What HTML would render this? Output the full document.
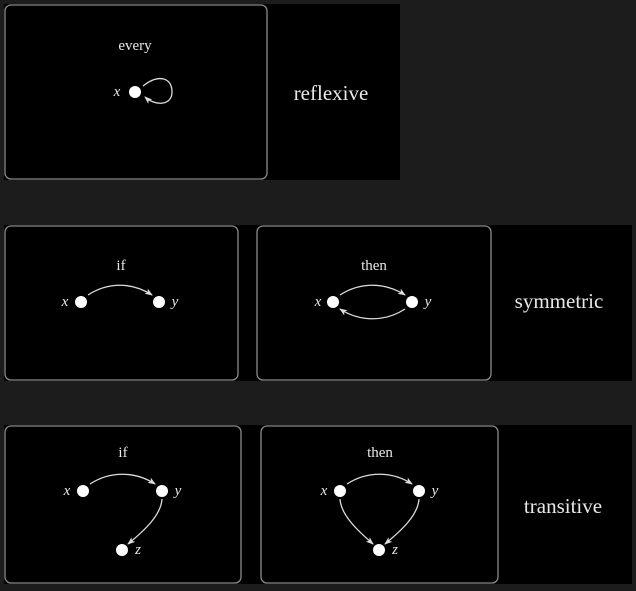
<!DOCTYPE html>
<html><head><meta charset="utf-8"><style>
body{margin:0;background:#1c1c1c;width:636px;height:591px;overflow:hidden}
svg{display:block}
text{font-family:"Liberation Serif",serif;fill:#e8e8e8}
.v{font-style:italic;font-size:15px}
.t{font-size:15px}
.big{font-size:21px}
.box{fill:#000;stroke:#8a8a8a;stroke-width:1.3}
.a{fill:none;stroke:#ddd;stroke-width:1.3;marker-end:url(#ar)}
</style></head><body>
<svg width="636" height="591">
<defs><marker id="ar" markerWidth="8" markerHeight="6" refX="7" refY="3" orient="auto" markerUnits="userSpaceOnUse"><path d="M0,0 L8,3 L0,6 L2,3z" fill="#ddd"/></marker></defs>
<g>
<rect x="4" y="4" width="396" height="176" fill="#000"/>
<rect class="box" x="5" y="5" width="262" height="174" rx="6"/>
<text class="t" x="135" y="50" text-anchor="middle">every</text>
<text class="v" x="117" y="96" text-anchor="middle">x</text>
<circle cx="135" cy="92" r="6" fill="#fff"/>
<path class="a" d="M143,86 C158,74 172,77 172,92 C172,106 155,106 145,97"/>
<text class="big" x="331" y="100" text-anchor="middle">reflexive</text>
</g>
<g>
<rect x="4" y="225" width="628" height="156" fill="#000"/>
<rect class="box" x="5" y="226" width="233" height="154" rx="6"/>
<text class="t" x="121" y="270" text-anchor="middle">if</text>
<text class="v" x="65" y="306" text-anchor="middle">x</text>
<text class="v" x="175" y="306" text-anchor="middle">y</text>
<circle cx="81" cy="302" r="6" fill="#fff"/><circle cx="159" cy="302" r="6" fill="#fff"/>
<path class="a" d="M88,295 C108,282 132,282 152,295"/>
<rect class="box" x="257" y="226" width="234" height="154" rx="6"/>
<text class="t" x="374" y="270" text-anchor="middle">then</text>
<text class="v" x="318" y="306" text-anchor="middle">x</text>
<text class="v" x="428" y="306" text-anchor="middle">y</text>
<circle cx="333" cy="302" r="6" fill="#fff"/><circle cx="412" cy="302" r="6" fill="#fff"/>
<path class="a" d="M340,295 C360,282 385,282 405,295"/>
<path class="a" d="M405,309 C385,322 360,322 340,309"/>
<text class="big" x="559" y="308" text-anchor="middle">symmetric</text>
</g>
<g>
<rect x="4" y="425" width="628" height="159" fill="#000"/>
<rect class="box" x="5" y="426" width="236" height="157" rx="6"/>
<text class="t" x="123" y="457" text-anchor="middle">if</text>
<text class="v" x="67" y="495" text-anchor="middle">x</text>
<text class="v" x="178" y="495" text-anchor="middle">y</text>
<text class="v" x="138" y="554" text-anchor="middle">z</text>
<circle cx="83" cy="491" r="6" fill="#fff"/><circle cx="162" cy="491" r="6" fill="#fff"/><circle cx="122" cy="550" r="6" fill="#fff"/>
<path class="a" d="M90,484 C110,471 135,471 155,484"/>
<path class="a" d="M162,499 C161,515 145,530 128,544"/>
<rect class="box" x="261" y="426" width="237" height="157" rx="6"/>
<text class="t" x="380" y="457" text-anchor="middle">then</text>
<text class="v" x="324" y="495" text-anchor="middle">x</text>
<text class="v" x="435" y="495" text-anchor="middle">y</text>
<text class="v" x="395" y="554" text-anchor="middle">z</text>
<circle cx="340" cy="491" r="6" fill="#fff"/><circle cx="419" cy="491" r="6" fill="#fff"/><circle cx="379" cy="550" r="6" fill="#fff"/>
<path class="a" d="M347,484 C367,471 392,471 412,484"/>
<path class="a" d="M419,499 C418,515 402,530 385,544"/>
<path class="a" d="M340,499 C341,515 357,530 373,544"/>
<text class="big" x="563" y="513" text-anchor="middle">transitive</text>
</g>
</svg>
</body></html>
